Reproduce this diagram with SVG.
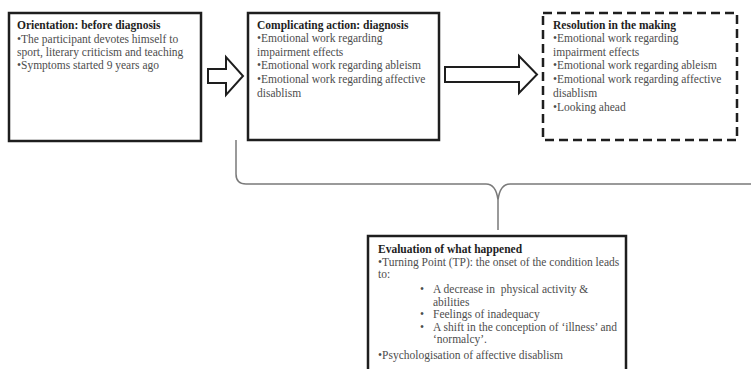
<svg xmlns="http://www.w3.org/2000/svg" width="751" height="369" viewBox="0 0 751 369">
<style>
.box{fill:#fff;stroke:#1e1e1e;stroke-width:2.5}
.dash{fill:#fff;stroke:#1e1e1e;stroke-width:2.5;stroke-dasharray:9 5}
.arrow{fill:#fff;stroke:#1e1e1e;stroke-width:2;stroke-linejoin:miter}
.brace{fill:none;stroke:#7a7a7a;stroke-width:1.5}
text{font-family:"Liberation Serif","Times New Roman",serif;font-size:11.5px;fill:#4d4d4d;white-space:pre}
.t{font-weight:bold;fill:#1e1e1e}
</style>
<rect width="751" height="369" fill="#fff"/>
<g id="connectors">
<polygon class="arrow" points="208,69 226,69 226,57 243,76 226,95 226,83 208,83"/>
<polygon class="arrow" points="445,67 519,67 519,56 537,74.5 519,93 519,82 445,82"/>
<path class="brace" d="M236,140 L236,174 Q236,184 246,184 L486,184 Q496,184 498,200 L498,230 M498,200 Q500,184 510,184 L760,184"/>
</g>
<g id="orientation">
<rect class="box" x="9" y="13" width="192" height="128"/>
<text x="17" y="29" class="t">Orientation: before diagnosis</text>
<text x="17" y="43">•The participant devotes himself to</text>
<text x="17" y="56">sport, literary criticism and teaching</text>
<text x="17" y="69">•Symptoms started 9 years ago</text>
</g>
<g id="complicating">
<rect class="box" x="248" y="13" width="191" height="127"/>
<text x="257" y="29" class="t">Complicating action: diagnosis</text>
<text x="257" y="42">•Emotional work regarding</text>
<text x="257" y="56">impairment effects</text>
<text x="257" y="69">•Emotional work regarding ableism</text>
<text x="257" y="83">•Emotional work regarding affective</text>
<text x="257" y="97">disablism</text>
</g>
<g id="resolution">
<rect class="dash" x="543" y="13" width="194" height="127"/>
<text x="553" y="29" class="t">Resolution in the making</text>
<text x="553" y="42">•Emotional work regarding</text>
<text x="553" y="56">impairment effects</text>
<text x="553" y="69">•Emotional work regarding ableism</text>
<text x="553" y="83">•Emotional work regarding affective</text>
<text x="553" y="97">disablism</text>
<text x="553" y="111">•Looking ahead</text>
</g>
<g id="evaluation">
<rect class="box" x="368" y="236" width="258" height="140"/>
<text x="378" y="253" class="t">Evaluation of what happened</text>
<text x="378" y="266">•Turning Point (TP): the onset of the condition leads</text>
<text x="378" y="278">to:</text>
<text x="420" y="293">•</text>
<text x="433" y="293">A decrease in  physical activity &amp;</text>
<text x="433" y="306">abilities</text>
<text x="420" y="318">•</text>
<text x="433" y="318">Feelings of inadequacy</text>
<text x="420" y="331">•</text>
<text x="433" y="331">A shift in the conception of ‘illness’ and</text>
<text x="433" y="343">‘normalcy’.</text>
<text x="378" y="359">•Psychologisation of affective disablism</text>
</g>
</svg>
